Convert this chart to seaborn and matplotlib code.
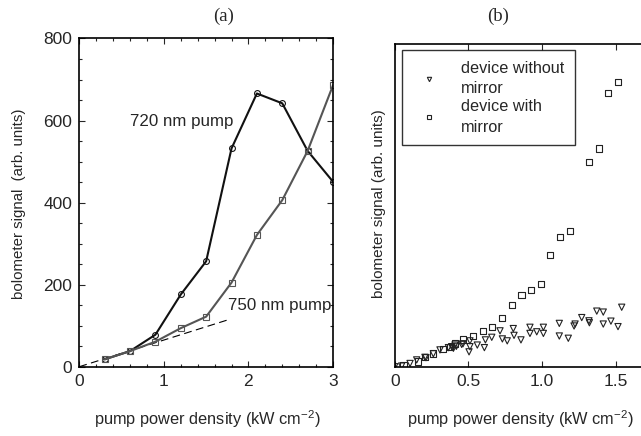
import matplotlib
matplotlib.use("Agg")
import matplotlib.pyplot as plt
from matplotlib.ticker import MultipleLocator
import seaborn as sns
import pandas as pd

sns.set_theme(style="ticks")
plt.rcParams['font.family'] = ['Liberation Sans', 'DejaVu Sans']
plt.rcParams['mathtext.fontset'] = 'custom'
plt.rcParams['mathtext.rm'] = 'Liberation Sans'

# ---------------- data: panel (a) ----------------
pump_density_a = [0.3, 0.6, 0.9, 1.2, 1.5, 1.8, 2.1, 2.4, 2.7, 3.0]
signal_720 = [18, 38, 78, 176, 257, 532, 666, 642, 526, 451]
signal_750 = [18, 38, 61, 94, 122, 205, 321, 406, 526, 686]
fit_x = [0.0, 1.77]
fit_y = [0.0, 115.0]

# ---------------- data: panel (b) ----------------
no_mirror_x = [0.0, 0.047, 0.104, 0.149, 0.205, 0.212, 0.262, 0.307, 0.364, 0.386,
               0.398, 0.409, 0.418, 0.454, 0.463, 0.504, 0.51, 0.51, 0.56, 0.608,
               0.615, 0.658, 0.714, 0.73, 0.763, 0.804, 0.809, 0.856, 0.917, 0.917,
               0.963, 1.008, 1.008, 1.116, 1.116, 1.177, 1.216, 1.223, 1.268, 1.317,
               1.32, 1.37, 1.414, 1.414, 1.466, 1.514, 1.539]
no_mirror_y = [0.0, 0.2, 1.0, 2.1, 2.9, 2.8, 4.0, 5.2, 5.9, 6.2,
               5.7, 6.7, 6.3, 6.9, 7.1, 4.6, 6.2, 8.0, 6.7, 5.9,
               8.3, 9.1, 11.1, 8.6, 8.0, 11.8, 9.7, 8.3, 12.2, 10.3,
               10.8, 12.2, 10.3, 13.4, 9.5, 8.8, 12.6, 13.2, 15.2, 14.2,
               13.6, 17.2, 16.9, 13.2, 14.1, 12.4, 18.4]
mirror_x = [0.059, 0.16, 0.205, 0.262, 0.33, 0.375, 0.411, 0.465, 0.529, 0.597,
            0.662, 0.728, 0.793, 0.859, 0.924, 0.990, 1.055, 1.121, 1.186, 1.317,
            1.383, 1.448, 1.514]
mirror_y = [0.5, 1.6, 3.1, 4.1, 5.4, 6.2, 7.2, 8.4, 9.5, 11.1,
            12.4, 15.1, 19.0, 22.1, 23.8, 25.7, 34.5, 40.2, 42.1, 63.3,
            67.5, 84.8, 88.1]

df_a = pd.DataFrame({
    "x": pump_density_a * 2,
    "y": signal_720 + signal_750,
    "pump": ["720 nm"] * len(signal_720) + ["750 nm"] * len(signal_750),
})
df_b = pd.DataFrame({
    "x": no_mirror_x + mirror_x,
    "y": no_mirror_y + mirror_y,
    "dev": ["device without\nmirror"] * len(no_mirror_x) + ["device with\nmirror"] * len(mirror_x),
})

W, H = 641, 436
fig = plt.figure(figsize=(W / 100, H / 100), dpi=100)

# ---------- panel (a) ----------
ax1 = fig.add_axes([79.3 / W, 1 - 366.7 / H, (333 - 79.3) / W, (366.7 - 38.5) / H])
ax1.plot(fit_x, fit_y, color="black", lw=0.8, dashes=(7, 4))
sns.lineplot(data=df_a, x="x", y="y", hue="pump", style="pump",
             palette={"720 nm": "#111111", "750 nm": "#555555"},
             markers={"720 nm": "o", "750 nm": "s"}, dashes=False,
             markersize=4.2, markeredgewidth=0.8,
             linewidth=1.5, legend=False, ax=ax1)
for l in ax1.lines[1:]:
    l.set_markerfacecolor("none")
    l.set_markeredgecolor(l.get_color())
ax1.set_xlim(0, 3)
ax1.set_ylim(0, 800)
ax1.xaxis.set_major_locator(MultipleLocator(1))
ax1.xaxis.set_minor_locator(MultipleLocator(0.2))
ax1.yaxis.set_major_locator(MultipleLocator(200))
ax1.yaxis.set_minor_locator(MultipleLocator(50))
ax1.tick_params(which="both", direction="in", top=True, right=True, width=0.8)
ax1.tick_params(which="major", length=4, labelsize=12.5, pad=5)
ax1.tick_params(which="minor", length=2)
for s in ax1.spines.values():
    s.set_linewidth(1.2)
    s.set_color("black")
ax1.set_xlabel("")
ax1.set_ylabel("")
ax1.text(0.6, 598, "720 nm pump", fontsize=12.2, va="center", ha="left")
ax1.text(1.76, 150, "750 nm pump", fontsize=12.2, va="center", ha="left")

# ---------- panel (b) ----------
ax2 = fig.add_axes([394.7 / W, 1 - 366.7 / H, (1.75 * 147.5) / W, (366.7 - 43.5) / H])
sns.scatterplot(data=df_b, x="x", y="y", style="dev",
                markers={"device without\nmirror": "v", "device with\nmirror": "s"},
                s=20, facecolor="none", edgecolor="#222222", linewidth=0.8,
                ax=ax2)
ax2.set_xlim(0, 1.75)
ax2.set_ylim(0, 100)
ax2.set_xticks([0, 0.5, 1.0, 1.5])
ax2.set_xticklabels(["0", "0.5", "1.0", "1.5"])
ax2.set_yticks([])
ax2.tick_params(axis="x", which="major", direction="in", top=True, length=4,
                width=0.8, labelsize=12.5, pad=5)
ax2.spines["right"].set_visible(False)
for s in ax2.spines.values():
    s.set_linewidth(1.2)
    s.set_color("black")
ax2.set_xlabel("")
ax2.set_ylabel("")
leg = ax2.legend(loc="upper left", bbox_to_anchor=(7 / 258.1, 1 - 6.5 / 323.2),
                 fontsize=11.7, frameon=True, fancybox=False, edgecolor="black",
                 handletextpad=1.0, labelspacing=0.2, borderpad=0.65,
                 markerscale=0.7, handlelength=2.0, borderaxespad=0)
leg.get_frame().set_linewidth(1.0)
for t in leg.get_texts():
    t.set_linespacing(1.45)
for h in leg.legend_handles:
    try:
        h.set_markerfacecolor("none")
        h.set_markeredgecolor("#222222")
    except AttributeError:
        h.set_facecolor("none")
        h.set_edgecolor("#222222")

# ---------- texts ----------
serif = ["Liberation Serif", "DejaVu Serif"]
fig.text(224 / W, 1 - 16 / H, "(a)", family=serif, fontsize=13.5, ha="center", va="center")
fig.text(498 / W, 1 - 16 / H, "(b)", family=serif, fontsize=13.5, ha="center", va="center")
fig.text(19 / W, 1 - 204 / H, "bolometer signal  (arb. units)", rotation=90,
         fontsize=10.8, ha="center", va="center")
fig.text(379 / W, 1 - 204 / H, "bolometer signal (arb. units)", rotation=90,
         fontsize=11.0, ha="center", va="center")
fig.text(207 / W, 1 - 419 / H, "pump power density (kW cm$^{-2}$)",
         fontsize=11.8, ha="center", va="center")
fig.text(520 / W, 1 - 419 / H, "pump power density (kW cm$^{-2}$)",
         fontsize=11.8, ha="center", va="center")

fig.savefig("out.png", dpi=100)
